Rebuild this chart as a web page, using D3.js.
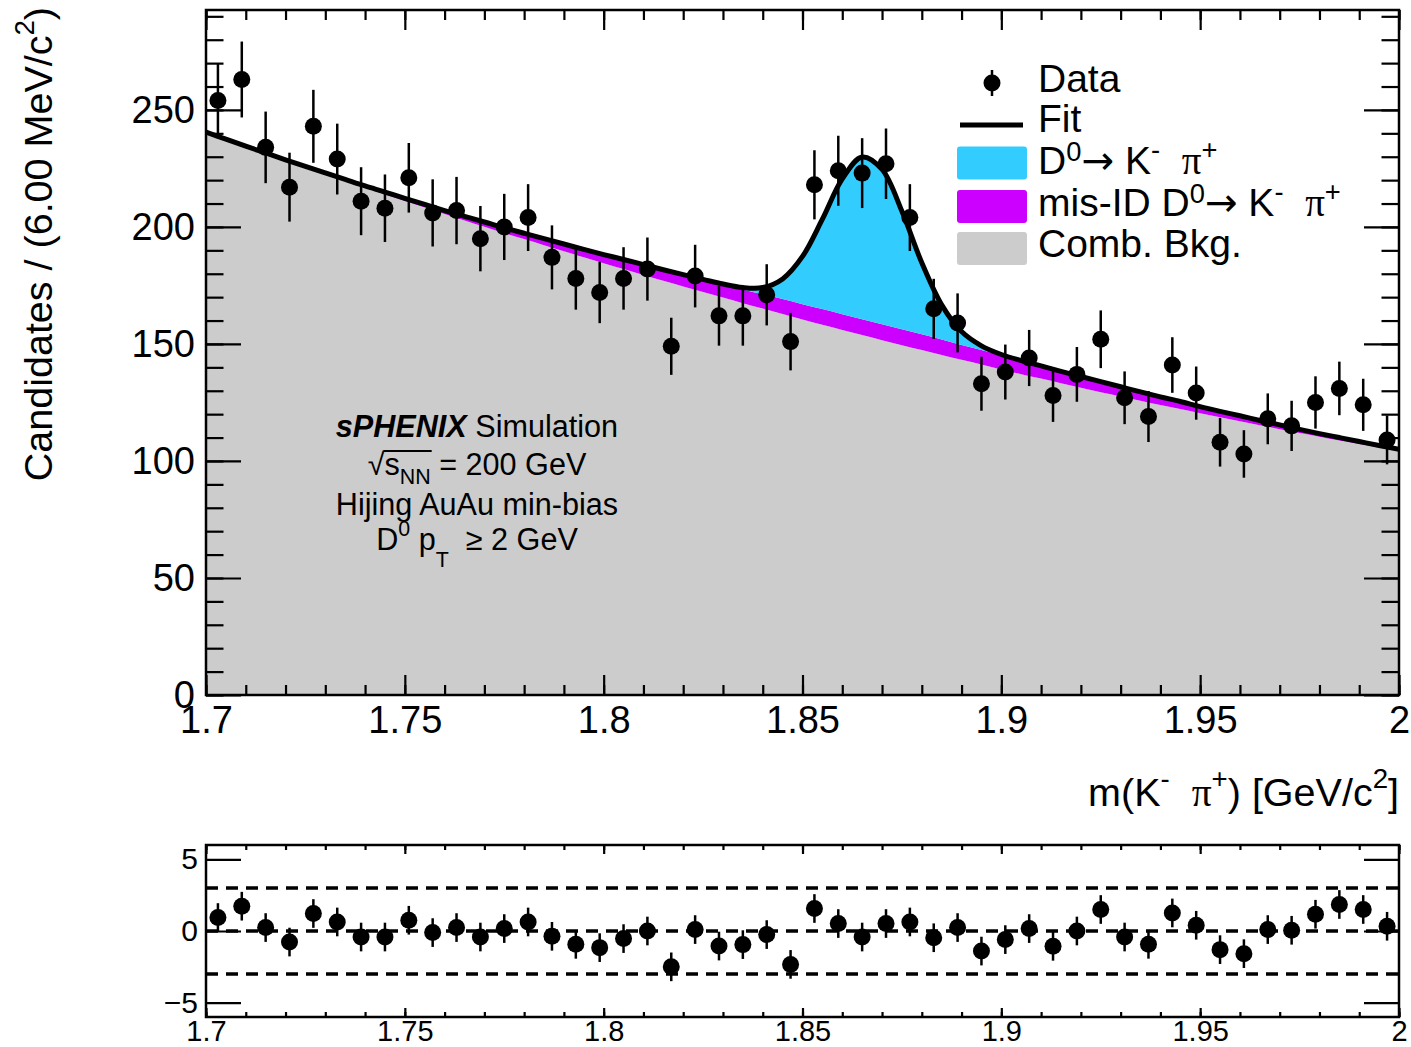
<!DOCTYPE html>
<html>
<head>
<meta charset="utf-8">
<script src="https://cdn.jsdelivr.net/npm/d3@7"></script>
<style>
  body { margin: 0; background: #fff; }
  svg { display: block; }
  text { white-space: pre; }
</style>
</head>
<body>
<script>
// ---- data ----
// bin centres, 6 MeV bins
var massBins = [1.703, 1.709, 1.715, 1.721, 1.727, 1.733, 1.739, 1.745, 1.751, 1.757,
                1.763, 1.769, 1.775, 1.781, 1.787, 1.793, 1.799, 1.805, 1.811, 1.817,
                1.823, 1.829, 1.835, 1.841, 1.847, 1.853, 1.859, 1.865, 1.871, 1.877,
                1.883, 1.889, 1.895, 1.901, 1.907, 1.913, 1.919, 1.925, 1.931, 1.937,
                1.943, 1.949, 1.955, 1.961, 1.967, 1.973, 1.979, 1.985, 1.991, 1.997];

var counts = [254, 263, 234, 217, 243, 229, 211, 208, 221, 206,
              207, 195, 200, 204, 187, 178, 172, 178, 182, 149,
              179, 162, 162, 171, 151, 218, 224, 223, 227, 204,
              165, 159, 133, 138, 144, 128, 137, 152, 127, 119,
              141, 129, 108, 103, 118, 115, 125, 131, 124, 109];

var pulls = [0.94, 1.73, 0.24, -0.77, 1.22, 0.63, -0.42, -0.42, 0.75, -0.11,
             0.24, -0.42, 0.17, 0.63, -0.37, -0.93, -1.16, -0.53, 0.0, -2.5,
             0.1, -1.05, -0.95, -0.25, -2.33, 1.57, 0.52, -0.42, 0.52, 0.63,
             -0.47, 0.24, -1.4, -0.6, 0.17, -1.07, 0.0, 1.5, -0.42, -0.93,
             1.26, 0.4, -1.3, -1.58, 0.1, 0.05, 1.17, 1.85, 1.5, 0.33];

// fit components sampled every 5 MeV
var fitMass = [1.700, 1.705, 1.710, 1.715, 1.720, 1.725, 1.730, 1.735, 1.740, 1.745,
               1.750, 1.755, 1.760, 1.765, 1.770, 1.775, 1.780, 1.785, 1.790, 1.795,
               1.800, 1.805, 1.810, 1.815, 1.820, 1.825, 1.830, 1.835, 1.840, 1.845,
               1.850, 1.855, 1.860, 1.865, 1.870, 1.875, 1.880, 1.885, 1.890, 1.895,
               1.900, 1.905, 1.910, 1.915, 1.920, 1.925, 1.930, 1.935, 1.940, 1.945,
               1.950, 1.955, 1.960, 1.965, 1.970, 1.975, 1.980, 1.985, 1.990, 1.995,
               2.000];

var combBkg = [240.3, 237.3, 234.2, 231.3, 228.3, 225.4, 222.5, 219.6, 216.7, 213.9,
               211.1, 208.3, 205.5, 202.8, 200.1, 197.4, 194.8, 192.2, 189.6, 187.0,
               184.5, 182.0, 179.5, 177.0, 174.6, 172.2, 169.8, 167.4, 165.1, 162.8,
               160.5, 158.2, 156.0, 153.8, 151.6, 149.5, 147.4, 145.3, 143.2, 141.2,
               139.1, 137.1, 135.2, 133.2, 131.3, 129.4, 127.6, 125.7, 123.9, 122.2,
               120.4, 118.7, 117.0, 115.3, 113.6, 112.0, 110.4, 108.8, 107.3, 105.8,
               104.3];

var misId = [0.2, 0.2, 0.3, 0.3, 0.4, 0.5, 0.6, 0.7, 0.8, 1.0,
             1.1, 1.3, 1.5, 1.7, 2.0, 2.2, 2.5, 2.8, 3.1, 3.4,
             3.7, 4.1, 4.4, 4.7, 5.0, 5.4, 5.6, 5.9, 6.1, 6.4,
             6.5, 6.7, 6.7, 6.8, 6.8, 6.8, 6.7, 6.6, 6.4, 6.2,
             6.0, 5.7, 5.4, 5.1, 4.8, 4.5, 4.1, 3.8, 3.5, 3.2,
             2.8, 2.5, 2.3, 2.0, 1.8, 1.5, 1.3, 1.2, 1.0, 0.8,
             0.7];

var signal = [0, 0, 0, 0, 0, 0, 0, 0, 0, 0,
              0, 0, 0, 0, 0, 0, 0, 0, 0, 0,
              0, 0, 0, 0, 0, 0.0, 0.2, 0.8, 2.9, 8.6,
              20.4, 38.4, 57.8, 69.3, 66.2, 50.4, 30.6, 14.8, 5.7, 1.8,
              0.4, 0.1, 0, 0, 0, 0, 0, 0, 0, 0,
              0, 0, 0, 0, 0, 0, 0, 0, 0, 0,
              0];

var xMajor = [1.7, 1.75, 1.8, 1.85, 1.9, 1.95, 2.0];
var yMajor = [0, 50, 100, 150, 200, 250];
var pullMajor = [-5, 0, 5];
var pullLines = [-3, 0, 3];

var fillColors = { bkg: "#cccccc", misId: "#cc00ff", signal: "#33ccff" };

// ---- layout ----
var W = 1411, H = 1047;
var FONT = '"Liberation Sans", Arial, Helvetica, sans-serif';
var SERIF = '"Liberation Serif", serif';
var ARROW = '"DejaVu Sans", sans-serif';
var frame = { left: 206, right: 1399, top: 10, bottom: 695 };
var pframe = { left: 206, right: 1399, top: 845, bottom: 1017 };

var x = d3.scaleLinear().domain([1.7, 2.0]).range([frame.left, frame.right]);
var y = d3.scaleLinear().domain([0, 292.7]).range([frame.bottom, frame.top]);
var yPull = d3.scaleLinear().domain([-6, 6]).range([pframe.bottom, pframe.top]);

var xMinor = d3.range(0, 31).map(function(i) { return 1.7 + i * 0.01; });
var yMinor = d3.range(0, 300, 10);

var fmtTick = function(d) { return d3.format("~g")(+d.toFixed(3)); };

var svg = d3.select("body").append("svg")
  .attr("width", W)
  .attr("height", H)
  .attr("font-family", FONT);

svg.append("rect").attr("width", W).attr("height", H).attr("fill", "#fff");

svg.append("defs").append("clipPath").attr("id", "frameClip")
  .append("rect")
    .attr("x", frame.left).attr("y", frame.top)
    .attr("width", frame.right - frame.left)
    .attr("height", frame.bottom - frame.top);

// ---- stacked fit components ----
var fitTable = fitMass.map(function(m, i) {
  return { m: m, bkg: combBkg[i], misId: misId[i], signal: signal[i] };
});
var layers = d3.stack().keys(["bkg", "misId", "signal"])(fitTable);

var curve = d3.curveCatmullRom.alpha(0.5);
var area = d3.area()
  .x(function(d) { return x(d.data.m); })
  .y0(function(d) { return y(d[0]); })
  .y1(function(d) { return y(d[1]); })
  .curve(curve);

var plot = svg.append("g").attr("clip-path", "url(#frameClip)");

plot.selectAll("path.layer")
  .data(layers)
  .enter().append("path")
    .attr("class", "layer")
    .attr("d", area)
    .attr("fill", function(d) { return fillColors[d.key]; });

// axes + ticks (ROOT style, ticks on all four sides pointing in)
function ticks(gen, tr, values, len, fmt, size, pad) {
  var g = svg.append("g").attr("transform", tr)
    .call(gen.tickValues(values).tickSizeInner(-len).tickSizeOuter(0)
      .tickPadding(pad || 0).tickFormat(fmt || function() { return ""; }));
  g.select(".domain").remove();
  g.attr("font-family", FONT).attr("font-size", size || 10);
  g.selectAll(".tick line").attr("stroke", "#000").attr("stroke-width", 2.2);
  if (!fmt) g.selectAll("text").remove();
  return g;
}

ticks(d3.axisBottom(x), "translate(0," + frame.bottom + ")", xMinor, 10);
ticks(d3.axisBottom(x), "translate(0," + frame.bottom + ")", xMajor, 20, fmtTick, 38, 11);
ticks(d3.axisTop(x), "translate(0," + frame.top + ")", xMinor, 10);
ticks(d3.axisTop(x), "translate(0," + frame.top + ")", xMajor, 20);
ticks(d3.axisLeft(y), "translate(" + frame.left + ",0)", yMinor, 17.5);
ticks(d3.axisLeft(y), "translate(" + frame.left + ",0)", yMajor, 35, fmtTick, 38, 11);
ticks(d3.axisRight(y), "translate(" + frame.right + ",0)", yMinor, 17.5);
ticks(d3.axisRight(y), "translate(" + frame.right + ",0)", yMajor, 35);

// fit total
var fitLine = d3.line()
  .x(function(d) { return x(d.data.m); })
  .y(function(d) { return y(d[1]); })
  .curve(curve);

plot.append("path")
  .datum(layers[layers.length - 1])
  .attr("d", fitLine)
  .attr("fill", "none")
  .attr("stroke", "#000")
  .attr("stroke-width", 5)
  .attr("stroke-linejoin", "round");

svg.append("rect")
  .attr("x", frame.left).attr("y", frame.top)
  .attr("width", frame.right - frame.left)
  .attr("height", frame.bottom - frame.top)
  .attr("fill", "none").attr("stroke", "#000").attr("stroke-width", 2.5);

// data points with sqrt(N) errors
var pts = svg.append("g");
pts.selectAll("line.err")
  .data(counts)
  .enter().append("line")
    .attr("x1", function(d, i) { return x(massBins[i]); })
    .attr("x2", function(d, i) { return x(massBins[i]); })
    .attr("y1", function(d) { return y(d - Math.sqrt(d)); })
    .attr("y2", function(d) { return y(d + Math.sqrt(d)); })
    .attr("stroke", "#000").attr("stroke-width", 2.5);
pts.selectAll("circle")
  .data(counts)
  .enter().append("circle")
    .attr("cx", function(d, i) { return x(massBins[i]); })
    .attr("cy", function(d) { return y(d); })
    .attr("r", 8.5)
    .attr("fill", "#000");

// ---- rich text helper ----
// parts = [text, "sup"|"sub"|null, fontFamily, boldItalic, shift(em)]
function richText(sel, parts, size) {
  var shift = 0;
  parts.forEach(function(p) {
    var target = p[1] === "sup" ? -0.45 * size : (p[1] === "sub" ? 0.3 * size : 0);
    if (p[4] != null) target = p[4] * size;
    var t = sel.append("tspan").text(p[0]).attr("dy", target - shift);
    if (p[1]) t.attr("font-size", size * 0.7);
    if (p[2]) t.attr("font-family", p[2]);
    if (p[3]) t.attr("font-weight", "bold").attr("font-style", "italic");
    shift = target;
  });
}

// axis titles
var yTitle = svg.append("text")
  .attr("transform", "translate(52,7) rotate(-90)")
  .attr("text-anchor", "end")
  .attr("font-size", 39.5);
richText(yTitle, [["Candidates / (6.00 MeV/c"], ["2", "sup"], [")"]], 39.5);

var xTitle = svg.append("text")
  .attr("x", frame.right).attr("y", 806)
  .attr("text-anchor", "end")
  .attr("font-size", 39.5);
richText(xTitle, [["m(K"], ["-", "sup"], ["  "], ["\u03c0", null, SERIF], ["+", "sup"],
                  [") [GeV/c"], ["2", "sup"], ["]"]], 39.5);

// ---- legend ----
var legend = svg.append("g");
legend.append("line")
  .attr("x1", 992).attr("x2", 992).attr("y1", 70).attr("y2", 96)
  .attr("stroke", "#000").attr("stroke-width", 2.5);
legend.append("circle").attr("cx", 992).attr("cy", 83).attr("r", 8.5).attr("fill", "#000");
legend.append("line")
  .attr("x1", 960).attr("x2", 1023).attr("y1", 125).attr("y2", 125)
  .attr("stroke", "#000").attr("stroke-width", 5);

var legendBoxes = [["signal", 163], ["misId", 206.5], ["bkg", 248.5]];
legend.selectAll("rect.box")
  .data(legendBoxes)
  .enter().append("rect")
    .attr("class", "box")
    .attr("x", 957).attr("width", 70)
    .attr("y", function(d) { return d[1] - 16.5; })
    .attr("height", 33).attr("rx", 3)
    .attr("fill", function(d) { return fillColors[d[0]]; });

var PI = ["\u03c0", null, SERIF];
var ARR = ["\u2192", null, ARROW];
var SUP0 = ["0", "sup", null, false, -0.33];
var SUPM = ["-", "sup", null, false, -0.38];
var SUPP = ["+", "sup", null, false, -0.38];
var legendText = [
  [92, [["Data"]]],
  [132, [["Fit"]]],
  [174, [["D"], SUP0, ARR, [" K"], SUPM, ["  "], PI, SUPP]],
  [216, [["mis-ID D"], SUP0, ARR, [" K"], SUPM, ["  "], PI, SUPP]],
  [257, [["Comb. Bkg."]]]
];
legendText.forEach(function(row) {
  var t = legend.append("text").attr("x", 1038).attr("y", row[0]).attr("font-size", 39);
  richText(t, row[1], 39);
});

// ---- label block ----
var LS = 30.6;
var info = svg.append("g").attr("font-size", LS).attr("text-anchor", "middle");
richText(info.append("text").attr("x", 477).attr("y", 437),
  [["sPHENIX", null, null, true], [" Simulation"]], LS);
var sq = info.append("text").attr("x", 477).attr("y", 475);
richText(sq, [["\u221as"], ["NN", "sub"], [" = 200 GeV"]], LS);
richText(info.append("text").attr("x", 477).attr("y", 515), [["Hijing AuAu min-bias"]], LS);
richText(info.append("text").attr("x", 477).attr("y", 550),
  [["D"], ["0", "sup"], [" p"], ["T", "sub", null, false, 0.55], ["  \u2265 2 GeV"]], LS);

// overline of the square root
var sqNode = sq.node();
var ox0 = sqNode.getEndPositionOfChar(0).x;
var ox1 = sqNode.getEndPositionOfChar(3).x;
info.append("line")
  .attr("x1", ox0 - 1).attr("x2", ox1 + 1)
  .attr("y1", 451).attr("y2", 451)
  .attr("stroke", "#000").attr("stroke-width", 1.8);

// ---- pull panel ----
ticks(d3.axisBottom(x), "translate(0," + pframe.bottom + ")", xMinor, 5);
ticks(d3.axisBottom(x), "translate(0," + pframe.bottom + ")", xMajor, 9, fmtTick, 29, 3);
ticks(d3.axisTop(x), "translate(0," + pframe.top + ")", xMinor, 5);
ticks(d3.axisTop(x), "translate(0," + pframe.top + ")", xMajor, 9);
ticks(d3.axisLeft(yPull), "translate(" + pframe.left + ",0)", pullMajor, 35, fmtTick, 30, 8);
ticks(d3.axisRight(yPull), "translate(" + pframe.right + ",0)", pullMajor, 35);

svg.selectAll("line.band")
  .data(pullLines)
  .enter().append("line")
    .attr("class", "band")
    .attr("x1", pframe.left).attr("x2", pframe.right)
    .attr("y1", function(d) { return yPull(d); })
    .attr("y2", function(d) { return yPull(d); })
    .attr("stroke", "#000").attr("stroke-width", 3.5)
    .attr("stroke-dasharray", "12,8");

svg.append("rect")
  .attr("x", pframe.left).attr("y", pframe.top)
  .attr("width", pframe.right - pframe.left)
  .attr("height", pframe.bottom - pframe.top)
  .attr("fill", "none").attr("stroke", "#000").attr("stroke-width", 2.5);

var pp = svg.append("g");
pp.selectAll("line.err")
  .data(pulls)
  .enter().append("line")
    .attr("x1", function(d, i) { return x(massBins[i]); })
    .attr("x2", function(d, i) { return x(massBins[i]); })
    .attr("y1", function(d) { return yPull(d - 1); })
    .attr("y2", function(d) { return yPull(d + 1); })
    .attr("stroke", "#000").attr("stroke-width", 2.5);
pp.selectAll("circle")
  .data(pulls)
  .enter().append("circle")
    .attr("cx", function(d, i) { return x(massBins[i]); })
    .attr("cy", function(d) { return yPull(d); })
    .attr("r", 8.5)
    .attr("fill", "#000");
</script>
</body>
</html>
